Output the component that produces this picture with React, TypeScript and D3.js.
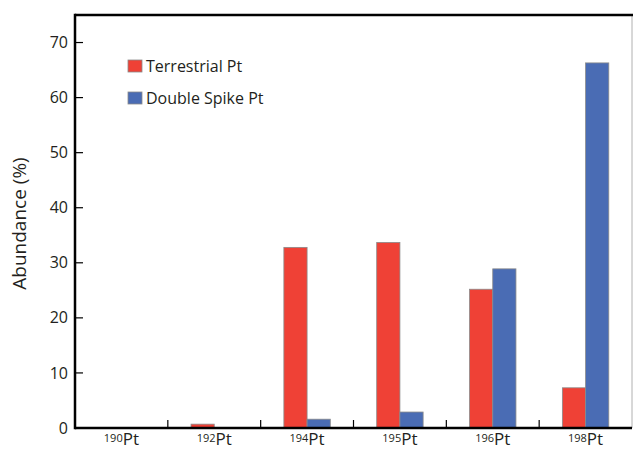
import * as d3 from 'd3';
import { useMemo } from 'react';

// isotope categories and abundances (%)
const isotopes = ['190', '192', '194', '195', '196', '198'];
const terrestrial = [0.01, 0.7, 32.8, 33.7, 25.2, 7.3];
const doubleSpike = [0, 0, 1.6, 2.9, 28.9, 66.3];
const yTicks = [0, 10, 20, 30, 40, 50, 60, 70];

const WIDTH = 633;
const HEIGHT = 450;
const MARGIN = { top: 15, right: 1, bottom: 22, left: 75 };
const RED = '#ef4136';
const BLUE = '#4a6cb4';
const FONT = '"Open Sans", "Noto Sans", sans-serif';

export default function App() {
  const boundsWidth = WIDTH - MARGIN.left - MARGIN.right;
  const boundsHeight = HEIGHT - MARGIN.top - MARGIN.bottom;

  const xScale = useMemo(
    () => d3.scaleBand().domain(isotopes).range([0, boundsWidth]),
    [boundsWidth]
  );
  const yScale = useMemo(
    () => d3.scaleLinear().domain([0, 75]).range([boundsHeight, 0]),
    [boundsHeight]
  );

  const barW = xScale.bandwidth() * 0.25;

  const bars = isotopes.map((iso, i) => {
    const cx = (xScale(iso) ?? 0) + xScale.bandwidth() / 2;
    return (
      <g key={iso}>
        {terrestrial[i] > 0.05 && (
          <rect
            x={cx - barW}
            y={yScale(terrestrial[i])}
            width={barW}
            height={boundsHeight - yScale(terrestrial[i])}
            fill={RED}
            stroke="#8a8a8a"
            strokeWidth={0.8}
          />
        )}
        {doubleSpike[i] > 0.05 && (
          <rect
            x={cx}
            y={yScale(doubleSpike[i])}
            width={barW}
            height={boundsHeight - yScale(doubleSpike[i])}
            fill={BLUE}
            stroke="#8a8a8a"
            strokeWidth={0.8}
          />
        )}
        <text
          x={cx}
          y={boundsHeight + 14}
          textAnchor="middle"
          fontFamily={FONT}
          fill="#231f20"
        >
          <tspan fontSize={11}>{iso}</tspan>
          <tspan fontSize={17} dy={3}>Pt</tspan>
        </text>
      </g>
    );
  });

  // tick marks at category boundaries
  const xBoundaries = isotopes.slice(1).map((iso) => xScale(iso) ?? 0);

  return (
    <svg
      width={WIDTH}
      height={HEIGHT}
      style={{ position: 'absolute', left: 0, top: 0, background: '#fff' }}
    >
      <g transform={`translate(${[MARGIN.left, MARGIN.top].join(',')})`}>
        {bars}

        {/* right border */}
        <line x1={boundsWidth} x2={boundsWidth} y1={0} y2={boundsHeight} stroke="#b0b0b0" strokeWidth={1} />
        {/* top border */}
        <line x1={0} x2={boundsWidth + 1} y1={0} y2={0} stroke="#000" strokeWidth={2.5} />

        {/* y axis */}
        {yTicks.map((t) => (
          <g key={t} transform={`translate(0,${yScale(t)})`}>
            <line x1={0} x2={8} stroke="#000" strokeWidth={1.2} />
            <text
              x={-7}
              dy="0.35em"
              textAnchor="end"
              fontFamily={FONT}
              fontSize={16}
              fill="#231f20"
            >
              {t}
            </text>
          </g>
        ))}
        {xBoundaries.map((bx, i) => (
          <line key={i} x1={bx} x2={bx} y1={boundsHeight} y2={boundsHeight - 8} stroke="#000" strokeWidth={1.2} />
        ))}
        <line x1={0} x2={0} y1={-1.25} y2={boundsHeight + 1.25} stroke="#000" strokeWidth={2.5} />
        <line x1={0} x2={boundsWidth} y1={boundsHeight} y2={boundsHeight} stroke="#000" strokeWidth={2.5} />

        <text
          transform={`translate(${-49},${boundsHeight / 2 + 2}) rotate(-90)`}
          textAnchor="middle"
          fontFamily={FONT}
          fontSize={19}
          fill="#231f20"
        >
          Abundance (%)
        </text>

        {/* legend */}
        <g transform="translate(53,45)">
          <rect x={0} y={0} width={14} height={12} fill={RED} stroke="#8a8a8a" strokeWidth={0.8} />
          <text x={18} y={12} fontFamily={FONT} fontSize={16} fill="#231f20">Terrestrial Pt</text>
          <rect x={0} y={32} width={14} height={12} fill={BLUE} stroke="#8a8a8a" strokeWidth={0.8} />
          <text x={18} y={44} fontFamily={FONT} fontSize={16} fill="#231f20">Double Spike Pt</text>
        </g>
      </g>
    </svg>
  );
}
